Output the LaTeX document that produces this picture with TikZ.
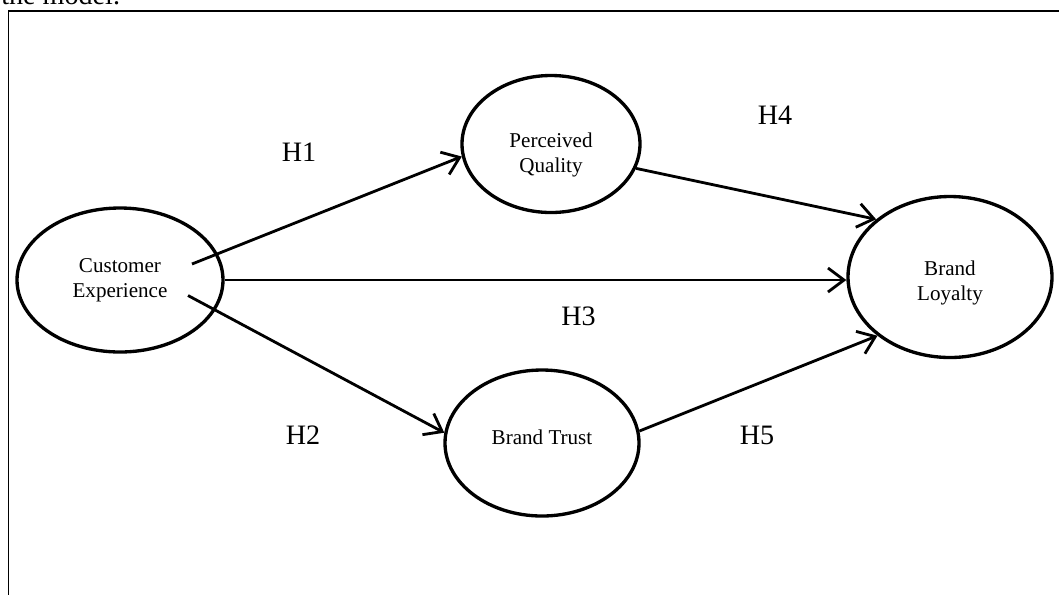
\documentclass[tikz,border=0pt]{standalone}
\usepackage{fontspec}
\setmainfont{Liberation Serif}
\usetikzlibrary{arrows.meta,shapes.geometric}

\begin{document}
\begin{tikzpicture}[
    construct/.style={ellipse, draw, line width=1.9pt, inner sep=0pt},
    txt/.style={align=center, inner sep=0pt, font=\fontsize{12}{14.5}\selectfont},
    path/.style={-{Straight Barb[length=3.2mm,width=4.8mm,line width=1.6pt]}, line width=1.6pt},
    hyp/.style={inner sep=0pt, font=\fontsize{16}{19}\selectfont}]

% page size and frame
\useasboundingbox (0,0) rectangle (21.18,-11.88);
\clip (0,0) rectangle (21.18,-11.88);
\node[anchor=base west, inner sep=0pt, font=\fontsize{16}{19}\selectfont] (caption) at (0.02,-0.09) {the model.};
\draw[line width=1.1pt] (0.17,-0.22) rectangle (22,-13);

% constructs
\node[construct, minimum width=4.12cm, minimum height=2.88cm,
      label={[txt]center:Customer\\Experience}] (ce) at (2.4,-5.6) {};
\node[construct, minimum width=3.56cm, minimum height=2.74cm,
      label={[txt, yshift=-2.2mm]center:Perceived\\Quality}] (pq) at (11.02,-2.88) {};
\node[construct, minimum width=3.88cm, minimum height=2.92cm,
      label={[txt, yshift=1.2mm]center:Brand Trust}] (bt) at (10.84,-8.86) {};
\node[construct, minimum width=4.08cm, minimum height=3.22cm,
      label={[txt, yshift=-1.2mm]center:Brand\\Loyalty}] (bl) at (19.0,-5.54) {};

% start points inside Customer Experience
\coordinate (ce1) at ([shift={(1.44,0.32)}]ce.center);
\coordinate (ce2) at ([shift={(1.36,-0.31)}]ce.center);

% hypothesised paths
\draw[path] (ce1) -- (pq.188);
\draw[path] (ce.east) -- (ce.east -| bl.west);
\draw[path] (ce2) -- (bt.174);
\draw[path] (pq.-16) -- (bl.142);
\draw[path] (bt.7) -- (bl.219);

% hypothesis labels
\node[hyp] (h1) at (5.98,-3.04) {H1};
\node[hyp] (h2) at (6.06,-8.7) {H2};
\node[hyp] (h3) at (11.57,-6.32) {H3};
\node[hyp] (h4) at (15.5,-2.3) {H4};
\node[hyp] (h5) at (15.14,-8.7) {H5};

\end{tikzpicture}
\end{document}
